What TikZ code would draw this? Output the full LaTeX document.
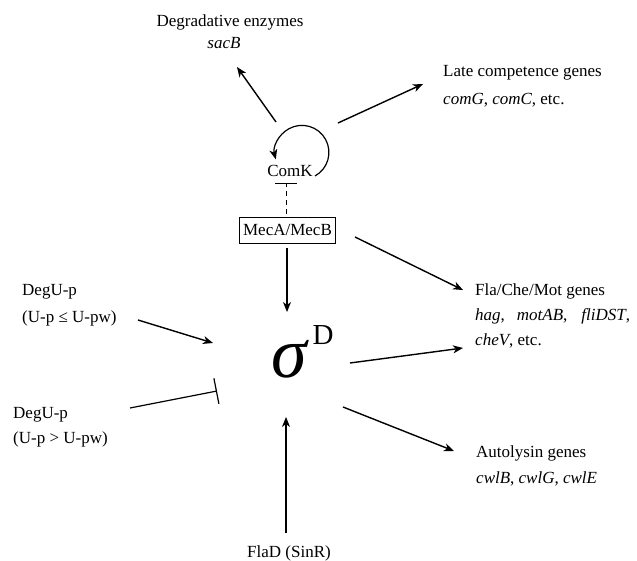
\documentclass[tikz,border=0pt]{standalone}
\usepackage{fontspec}
\setmainfont{Liberation Serif}
\usetikzlibrary{arrows.meta}

\begin{document}
\begin{tikzpicture}[x=1pt,y=-1pt,
        lbl/.style={inner sep=0pt,font=\fontsize{17}{20}\selectfont},
        act/.style={line width=1.4pt,-{Stealth[length=10pt,width=8pt,inset=3pt]}},
        inh/.style={line width=1.2pt,-{Bar[width=26pt,line width=1.2pt]}}]
        \useasboundingbox (0,0) rectangle (637,561);

        % texts
        \node[lbl,anchor=base] (degr) at (230,27) {Degradative enzymes};
        \node[lbl,anchor=base] (sacb) at (224,49) {\textit{sacB}};
        \node[lbl,anchor=base west] (late) at (443,77) {Late competence genes};
        \node[lbl,anchor=base west] (lategn) at (443,105) {\textit{comG}, \textit{comC}, etc.};
        \node[lbl,anchor=base] (comk) at (290,177) {ComK};
        \node[lbl,draw,line width=0.9pt,inner xsep=4pt,minimum height=26pt] (mec) at (287.5,230) {MecA/MecB};
        \node[lbl,anchor=base west] (degup) at (22,295) {DegU-p};
        \node[lbl,anchor=base west] (degupa) at (22,323) {(U-p ≤ U-pw)};
        \node[lbl,anchor=base west] (degun) at (13,418) {DegU-p};
        \node[lbl,anchor=base west] (deguna) at (13,443) {(U-p > U-pw)};
        \node[lbl,anchor=base west] (fla) at (475,295) {Fla/Che/Mot genes};
        \node[lbl,anchor=base west] (flagn) at (475,320) {\textit{hag},\hspace{12pt}\textit{motAB},\hspace{14pt}\textit{fliDST},};
        \node[lbl,anchor=base west] (flagnb) at (475,345) {\textit{cheV}, etc.};
        \node[lbl,anchor=base west] (auto) at (476,457) {Autolysin genes};
        \node[lbl,anchor=base west] (autogn) at (476,483) {\textit{cwlB}, \textit{cwlG}, \textit{cwlE}};
        \node[lbl,anchor=base] (flad) at (289,557) {FlaD (SinR)};

        % sigma D
        \node[inner sep=0pt,anchor=base,font=\fontsize{72}{72}\selectfont\itshape] (sig) at (289,377) {σ};
        \node[inner sep=0pt,anchor=base,font=\fontsize{29}{29}\selectfont] (sigd) at (323,344) {D};

        % arrow ends
        \coordinate (k1) at (276,122);
        \coordinate (k2) at (237,67);
        \coordinate (k3) at (338,123);
        \coordinate (k4) at (423,84);
        \coordinate (kl) at (315,176);
        \coordinate (kb) at (286,183);
        \coordinate (m1) at (287,312);
        \coordinate (m2) at (355,237);
        \coordinate (m3) at (463,290);
        \coordinate (u1) at (138,320);
        \coordinate (u2) at (213,343);
        \coordinate (u3) at (130,408);
        \coordinate (u4) at (217,391);
        \coordinate (s1) at (350,363);
        \coordinate (s2) at (463,348);
        \coordinate (s3) at (343,407);
        \coordinate (s4) at (454,451);
        \coordinate (f1) at (286,533);
        \coordinate (f2) at (286,417);

        % connectors
        \draw[act] (k1) -- (k2);
        \draw[act] (k3) -- (k4);
        \draw[act,line width=1.2pt] (kl) arc[start angle=61,end angle=-195,radius=27];
        \draw[inh,line width=0.9pt,dash pattern=on 5pt off 4pt,-{Bar[width=22pt,line width=1.2pt]}] (mec.north) ++(-1.5,-3) -- (kb);
        \draw[act,line width=1.1pt] (mec.south) ++(-0.5,5) -- (m1);
        \draw[act] (m2) -- (m3);
        \draw[act] (u1) -- (u2);
        \draw[inh] (u3) -- (u4);
        \draw[act] (s1) -- (s2);
        \draw[act] (s3) -- (s4);
        \draw[act,line width=1.1pt] (f1) -- (f2);
\end{tikzpicture}
\end{document}
